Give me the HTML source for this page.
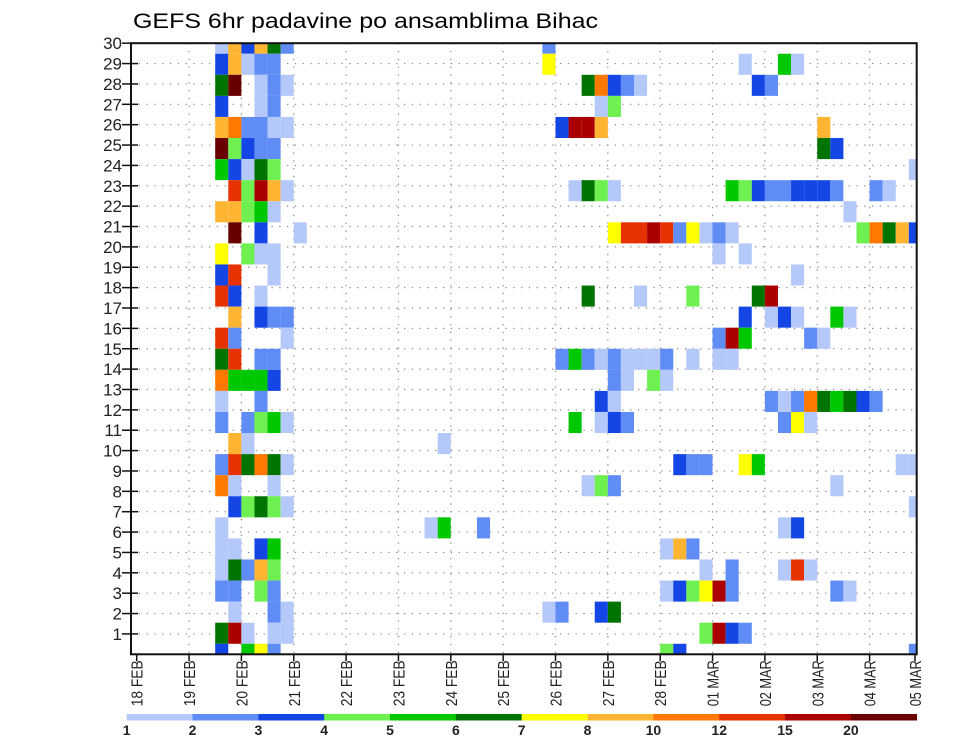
<!DOCTYPE html>
<html><head><meta charset="utf-8">
<style>
html,body{margin:0;padding:0;background:#fff;}
svg{display:block;font-family:"Liberation Sans",Arial,sans-serif;}
</style></head>
<body>
<svg id="chart" width="960" height="742" viewBox="0 0 960 742" xmlns="http://www.w3.org/2000/svg">
<rect x="0" y="0" width="960" height="742" fill="#fff"/>
<text x="133" y="28" font-size="21" fill="#000" textLength="465" lengthAdjust="spacingAndGlyphs">GEFS 6hr padavine po ansamblima Bihac</text>
<g id="grid"></g>
<g id="cells"></g>
<g id="axes"></g>
<g id="legend"></g>
</svg>
<script>
// ---- data ----
const dayLabels = ["18 FEB","19 FEB","20 FEB","21 FEB","22 FEB","23 FEB","24 FEB","25 FEB","26 FEB","27 FEB","28 FEB","01 MAR","02 MAR","03 MAR","04 MAR","05 MAR"];
const memberTicks = [1,2,3,4,5,6,7,8,9,10,11,12,13,14,15,16,17,18,19,20,21,22,23,24,25,26,27,28,29,30];
const levelLabels = ["1","2","3","4","5","6","7","8","10","12","15","20"];
const levelColors = ["#b4c8fa","#5f8cf5","#1446e6","#6ef050","#00c800","#007300","#ffff00","#ffb432","#ff7800","#e63200","#aa0000","#690000"];
// cells: [member row (0=bottom), 6-hourly step index, colour level 1..12]
const cells = [
[29,0,1],[29,1,8],[29,2,3],[29,3,8],[29,4,6],[29,5,2],[29,25,2],
[28,0,3],[28,1,8],[28,2,1],[28,3,2],[28,4,2],[28,25,7],[28,40,1],[28,43,5],[28,44,1],
[27,0,6],[27,1,12],[27,3,1],[27,4,2],[27,5,1],[27,28,6],[27,29,9],[27,30,3],[27,31,2],[27,32,1],[27,41,3],[27,42,2],
[26,0,3],[26,3,1],[26,4,2],[26,29,1],[26,30,4],
[25,0,8],[25,1,9],[25,2,2],[25,3,2],[25,4,1],[25,5,1],[25,26,3],[25,27,11],[25,28,11],[25,29,8],[25,46,8],
[24,0,12],[24,1,4],[24,2,3],[24,3,2],[24,4,2],[24,46,6],[24,47,3],
[23,0,5],[23,1,3],[23,2,1],[23,3,6],[23,4,4],[23,53,1],
[22,1,10],[22,2,4],[22,3,11],[22,4,8],[22,5,1],[22,27,1],[22,28,6],[22,29,4],[22,30,1],[22,39,5],[22,40,4],[22,41,3],[22,42,2],[22,43,2],[22,44,3],[22,45,3],[22,46,3],[22,47,2],[22,50,2],[22,51,1],
[21,0,8],[21,1,8],[21,2,4],[21,3,5],[21,4,1],[21,48,1],
[20,1,12],[20,3,3],[20,6,1],[20,30,7],[20,31,10],[20,32,10],[20,33,11],[20,34,10],[20,35,2],[20,36,7],[20,37,1],[20,38,2],[20,39,1],[20,49,4],[20,50,9],[20,51,6],[20,52,8],[20,53,3],
[19,0,7],[19,2,4],[19,3,1],[19,4,1],[19,38,1],[19,40,1],
[18,0,3],[18,1,10],[18,4,1],[18,44,1],
[17,0,10],[17,1,3],[17,3,1],[17,28,6],[17,32,1],[17,36,4],[17,41,6],[17,42,11],
[16,1,8],[16,3,3],[16,4,2],[16,5,2],[16,40,3],[16,42,1],[16,43,3],[16,44,1],[16,47,5],[16,48,1],
[15,0,10],[15,1,2],[15,5,1],[15,38,2],[15,39,11],[15,40,5],[15,45,2],[15,46,1],
[14,0,6],[14,1,10],[14,3,2],[14,4,2],[14,26,2],[14,27,5],[14,28,2],[14,29,1],[14,30,2],[14,31,1],[14,32,1],[14,33,1],[14,34,2],[14,36,1],[14,38,1],[14,39,1],
[13,0,9],[13,1,5],[13,2,5],[13,3,5],[13,4,3],[13,30,2],[13,31,1],[13,33,4],[13,34,1],
[12,0,1],[12,3,2],[12,29,3],[12,30,1],[12,42,2],[12,43,1],[12,44,2],[12,45,9],[12,46,6],[12,47,5],[12,48,6],[12,49,3],[12,50,2],
[11,0,2],[11,2,2],[11,3,4],[11,4,5],[11,5,1],[11,27,5],[11,29,1],[11,30,3],[11,31,2],[11,43,2],[11,44,7],[11,45,1],
[10,1,8],[10,2,1],[10,17,1],
[9,0,2],[9,1,10],[9,2,6],[9,3,9],[9,4,6],[9,5,1],[9,35,3],[9,36,2],[9,37,2],[9,40,7],[9,41,5],[9,52,1],[9,53,1],
[8,0,9],[8,1,1],[8,4,1],[8,28,1],[8,29,4],[8,30,2],[8,47,1],
[7,1,3],[7,2,4],[7,3,6],[7,4,4],[7,5,1],[7,53,1],
[6,0,1],[6,16,1],[6,17,5],[6,20,2],[6,43,1],[6,44,3],
[5,0,1],[5,1,1],[5,3,3],[5,4,5],[5,34,1],[5,35,8],[5,36,2],
[4,0,1],[4,1,6],[4,2,2],[4,3,8],[4,4,4],[4,37,1],[4,39,2],[4,43,1],[4,44,10],[4,45,1],
[3,0,2],[3,1,2],[3,3,4],[3,4,2],[3,34,1],[3,35,3],[3,36,4],[3,37,7],[3,38,11],[3,39,2],[3,47,2],[3,48,1],
[2,1,1],[2,4,2],[2,5,1],[2,25,1],[2,26,2],[2,29,3],[2,30,6],
[1,0,6],[1,1,11],[1,2,1],[1,4,1],[1,5,1],[1,37,4],[1,38,11],[1,39,3],[1,40,2],
[0,0,3],[0,2,5],[0,3,7],[0,4,2],[0,34,4],[0,35,3],[0,53,2]
];

// ---- layout ----
const NS="http://www.w3.org/2000/svg";
const L=131, R=916.7, T=43.2, B=654.3;
const DAY0=136.7, DAYW=52.35;
const COL0=215.2, COLW=DAYW/4;
const ROWH=(B-T)/29;
const TICKH=(B-T)/30;
function xDay(d){return DAY0+d*DAYW;}
function xCol(c){return COL0+c*COLW;}
function yRow(k){return B-k*ROWH;}
function yTick(r){return B-r*TICKH;}
function mk(tag,attrs,parent){const e=document.createElementNS(NS,tag);for(const k in attrs)e.setAttribute(k,attrs[k]);parent.appendChild(e);return e;}

const grid=document.getElementById('grid');
for(let r=1;r<30;r++){
  const ln=mk('line',{x1:L,x2:R,y1:yTick(r),y2:yTick(r),stroke:'#8a8a8a','stroke-width':1.2,'stroke-dasharray':'1.3 6.5'},grid);
  
  
}
for(let d=1;d<15;d++){
  const ln=mk('line',{x1:xDay(d),x2:xDay(d),y1:T,y2:B,stroke:'#8a8a8a','stroke-width':1.2,'stroke-dasharray':'1.3 6.5'},grid);
  
  
}

const cg=document.getElementById('cells');
cells.forEach(c=>{
  const k=c[0], col=c[1], lv=c[2];
  let x0=xCol(col), x1=Math.min(xCol(col+1),R);
  let y0=Math.max(yRow(k+0.5),T), y1=Math.min(yRow(k-0.5),B);
  const rc=mk('rect',{x:x0,y:y0,width:x1-x0,height:y1-y0,fill:levelColors[lv-1]},cg);
  
  
});

const ax=document.getElementById('axes');
const fr=mk('rect',{x:L,y:T,width:R-L,height:B-T,fill:'none',stroke:'#111','stroke-width':2},ax);


memberTicks.forEach(r=>{
  const y=yTick(r);
  const t=mk('line',{x1:122,x2:138,y1:y,y2:y,stroke:'#111','stroke-width':1.5},ax);
  
  
  const tx=mk('text',{x:122,y:y+6,'font-size':17,'text-anchor':'end',fill:'#222'},ax);
  tx.textContent=r;
  
  
});
dayLabels.forEach((lab,d)=>{
  const x=Math.min(xDay(d),915);
  const t=mk('line',{x1:x,x2:x,y1:B,y2:B+7,stroke:'#111','stroke-width':1.5},ax);
  
  
  const tx=mk('text',{x:0,y:0,'font-size':16,'text-anchor':'end',fill:'#222',textLength:46,lengthAdjust:'spacingAndGlyphs',transform:`translate(${x+6},${B+6}) rotate(-90)`},ax);
  tx.textContent=lab;
  
  
});

const lg=document.getElementById('legend');
const LX0=126.7, LX1=916.7, LW=(LX1-LX0)/levelColors.length;
levelColors.forEach((col,i)=>{
  const rc=mk('rect',{x:LX0+i*LW,y:714,width:LW+0.3,height:6.5,fill:col},lg);
  
  
});
levelLabels.forEach((lab,i)=>{
  const tx=mk('text',{x:LX0+i*LW,y:735,'font-size':14,'font-weight':'bold','text-anchor':'middle',fill:'#222'},lg);
  tx.textContent=lab;
  
  
});
</script>
</body></html>
